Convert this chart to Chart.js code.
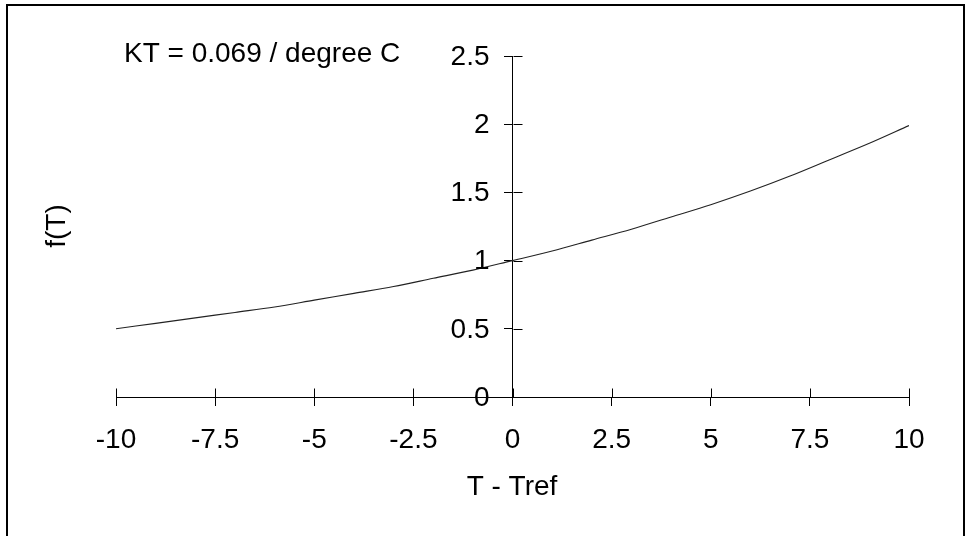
<!DOCTYPE html>
<html>
<head>
<meta charset="utf-8">
<script src="https://cdn.jsdelivr.net/npm/chart.js@4"></script>
<style>
  html, body { margin: 0; padding: 0; background: #fff; }
  canvas { display: block; }
</style>
</head>
<body>
<canvas id="c" width="967" height="536"></canvas>
<script>
// Data
const tValues = [-10, -9, -8, -7, -6, -5, -4, -3, -2, -1, 0, 1, 2, 3, 4, 5, 6, 7, 8, 9, 10];
const fValues = [0.50, 0.54, 0.58, 0.62, 0.66, 0.71, 0.76, 0.81, 0.87, 0.93, 1.00, 1.07, 1.15, 1.23, 1.32, 1.41, 1.51, 1.62, 1.74, 1.86, 1.99];
const xTickStep = 2.5;
const yTickStep = 0.5;
const xTitle = 'T - Tref';
const yTitle = 'f(T)';
const noteText = 'KT = 0.069 / degree C';

const FONT = 'Liberation Sans, Arial, sans-serif';
const FSIZE = 28;

const decorPlugin = {
  id: 'decor',
  beforeDraw(chart) {
    const ctx = chart.ctx;
    ctx.save();
    ctx.fillStyle = '#fff';
    ctx.fillRect(0, 0, chart.width, chart.height);
    ctx.restore();
  },
  afterDraw(chart) {
    const ctx = chart.ctx;
    const xs = chart.scales.x, ys = chart.scales.y;
    const x0 = Math.round(xs.getPixelForValue(0)) + 0.5;
    const y0 = Math.round(ys.getPixelForValue(0)) + 0.5;
    ctx.save();
    ctx.strokeStyle = '#000';
    ctx.lineWidth = 1;
    // inner halves of the crossing tick marks
    ctx.beginPath();
    xs.ticks.forEach(t => {
      const px = Math.round(xs.getPixelForValue(t.value)) + 0.5;
      ctx.moveTo(px, y0 - 9);
      ctx.lineTo(px, y0);
    });
    ys.ticks.forEach(t => {
      const py = Math.round(ys.getPixelForValue(t.value)) + 0.5;
      ctx.moveTo(x0, py);
      ctx.lineTo(x0 + 9, py);
    });
    ctx.stroke();

    // outer frame
    ctx.lineWidth = 2;
    ctx.strokeRect(7, 5, 957, 600);

    ctx.fillStyle = '#000';
    ctx.font = FSIZE + 'px ' + FONT;
    // y tick labels, right aligned left of the y axis
    ctx.textAlign = 'right';
    ctx.textBaseline = 'middle';
    ys.ticks.forEach(t => {
      ctx.fillText(String(t.value), x0 - 24, ys.getPixelForValue(t.value) + 1);
    });

    // titles and note
    ctx.textAlign = 'center';
    ctx.fillText(xTitle, 512, 487);
    ctx.textAlign = 'left';
    ctx.fillText(noteText, 124, 54);
    ctx.translate(57, 226);
    ctx.rotate(-Math.PI / 2);
    ctx.textAlign = 'center';
    ctx.fillText(yTitle, 0, 0);
    ctx.restore();
  }
};

new Chart(document.getElementById('c'), {
  type: 'line',
  data: {
    datasets: [{
      data: tValues.map((t, i) => ({ x: t, y: fValues[i] })),
      borderColor: '#222',
      borderWidth: 1.1,
      pointRadius: 0,
      fill: false,
      cubicInterpolationMode: 'monotone'
    }]
  },
  options: {
    responsive: false,
    animation: false,
    devicePixelRatio: 1,
    layout: { padding: { left: 116, right: 58, top: 56, bottom: 139 } },
    plugins: { legend: { display: false }, tooltip: { enabled: false }, title: { display: false } },
    scales: {
      x: {
        type: 'linear',
        position: { y: 0 },
        min: -10, max: 10,
        ticks: {
          stepSize: xTickStep,
          color: '#000',
          font: { family: FONT, size: FSIZE },
          padding: 18,
          maxRotation: 0,
          autoSkip: false,
          callback: v => String(v)
        },
        grid: { drawOnChartArea: false, drawTicks: true, tickLength: 8, color: '#000' },
        border: { display: true, color: '#000', width: 1 }
      },
      y: {
        type: 'linear',
        position: { x: 0 },
        min: 0, max: 2.5,
        ticks: {
          stepSize: yTickStep,
          display: false
        },
        grid: { drawOnChartArea: false, drawTicks: true, tickLength: 8, color: '#000' },
        border: { display: true, color: '#000', width: 1 }
      }
    }
  },
  plugins: [decorPlugin]
});
</script>
</body>
</html>
